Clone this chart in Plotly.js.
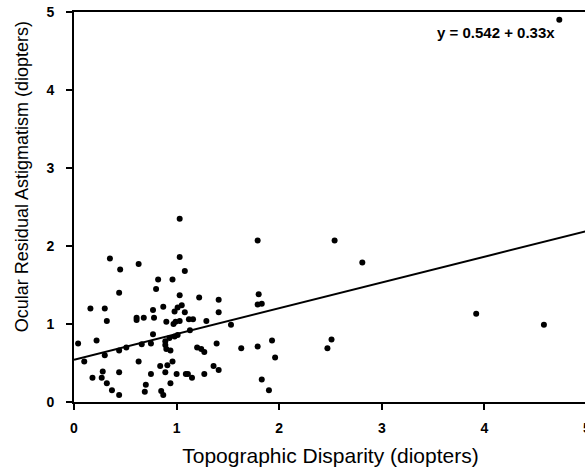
<!DOCTYPE html>
<html>
<head>
<meta charset="utf-8">
<script src="https://cdn.plot.ly/plotly-3.0.1.min.js"></script>
<style>
html,body{margin:0;padding:0;overflow:hidden;background:#fff;width:585px;height:467px;}
#chart{width:590px;height:467px;}
</style>
</head>
<body>
<div id="chart"></div>
<script>
// Topographic disparity (x) vs ocular residual astigmatism (y), diopters
const disparity = [
  1.03,0.35,0.63,1.03,0.45,1.08,0.82,0.96,0.80,0.44,
  1.03,1.22,1.41,0.16,0.30,0.87,0.77,1.05,1.01,0.98,
  1.08,1.41,0.61,0.61,0.68,0.78,0.32,0.90,0.99,1.03,
  1.12,1.16,1.29,0.97,1.53,0.04,0.22,0.77,0.75,0.66,
  0.89,0.93,0.98,1.01,0.89,0.90,0.94,0.51,0.44,1.13,
  1.20,1.24,1.27,1.39,0.10,0.30,0.63,0.96,0.84,0.91,
  0.28,0.44,0.18,0.27,0.75,0.89,1.00,1.09,1.11,1.15,
  1.27,1.36,1.41,0.32,0.70,0.94,0.37,0.69,0.44,0.85,0.87,
  1.79,2.54,2.81,1.80,1.79,1.83,1.63,1.79,1.93,1.96,
  1.83,1.90,2.47,2.51,3.92,4.58,4.73
];
const astigmatism = [
  2.35,1.84,1.77,1.86,1.70,1.68,1.57,1.57,1.45,1.40,
  1.37,1.34,1.31,1.20,1.20,1.22,1.18,1.24,1.21,1.16,
  1.15,1.15,1.08,1.05,1.08,1.08,1.04,1.03,1.03,1.04,
  1.06,1.06,1.04,1.00,0.99,0.75,0.79,0.87,0.75,0.74,
  0.78,0.82,0.84,0.86,0.73,0.68,0.66,0.70,0.66,0.92,
  0.70,0.68,0.64,0.75,0.52,0.60,0.52,0.52,0.46,0.47,
  0.39,0.38,0.31,0.31,0.36,0.38,0.36,0.36,0.36,0.31,
  0.36,0.46,0.41,0.24,0.22,0.24,0.15,0.13,0.09,0.14,0.09,
  2.07,2.07,1.79,1.38,1.25,1.26,0.69,0.71,0.79,0.57,
  0.29,0.15,0.69,0.80,1.13,0.99,4.90
];
// Fitted regression shown on the chart
const fitIntercept = 0.542;
const fitSlope = 0.33;
const fitX = [0, 5];
const fitLabel = "y = 0.542 + 0.33x";
const tickValues = [0, 1, 2, 3, 4, 5];
const tickLabels = ["0", "1", "2", "3", "4", "5"];
const xTitle = "Topographic Disparity (diopters)";
const yTitle = "Ocular Residual Astigmatism (diopters)";

const fitY = fitX.map(v => fitIntercept + fitSlope * v);

const FONT = "Liberation Sans, Arial, Helvetica, sans-serif";

const traces = [
  {
    type: "scatter", mode: "markers",
    x: disparity, y: astigmatism,
    marker: {color: "#000", size: 6},
    hoverinfo: "x+y", showlegend: false
  },
  {
    type: "scatter", mode: "lines",
    x: fitX, y: fitY,
    line: {color: "#000", width: 2},
    hoverinfo: "skip", showlegend: false
  }
];

const axisCommon = {
  range: [0, 5],
  tickvals: tickValues,
  ticktext: tickLabels,
  showline: true, linecolor: "#000", linewidth: 2,
  mirror: true,
  ticks: "outside", ticklen: 6, tickwidth: 2, tickcolor: "#000",
  showgrid: false, zeroline: false,
  ticklabeloverflow: "allow",
  tickfont: {family: FONT, size: 14, color: "#000", weight: "bold"},
  fixedrange: true
};

const layout = {
  width: 590, height: 467,
  margin: {l: 74, r: 3, t: 12, b: 65},
  paper_bgcolor: "#fff", plot_bgcolor: "#fff",
  font: {family: FONT, color: "#000"},
  xaxis: Object.assign({}, axisCommon, {
    ticklabelstandoff: 6,
    title: {text: xTitle, font: {family: FONT, size: 21, color: "#000"}}
  }),
  yaxis: Object.assign({}, axisCommon, {
    ticklabelstandoff: 9
  }),
  annotations: [
    {
      xref: "x", yref: "y", x: 4.71, y: 4.74,
      xanchor: "right", yanchor: "middle",
      text: fitLabel, showarrow: false,
      font: {family: FONT, size: 15, color: "#000", weight: "bold"}
    },
    {
      xref: "paper", yref: "paper", x: -0.101, y: 0.577,
      xanchor: "center", yanchor: "middle", textangle: -90,
      text: yTitle, showarrow: false,
      font: {family: FONT, size: 18, color: "#000"}
    }
  ]
};

Plotly.newPlot("chart", traces, layout, {displayModeBar: false, staticPlot: true});
</script>
</body>
</html>
